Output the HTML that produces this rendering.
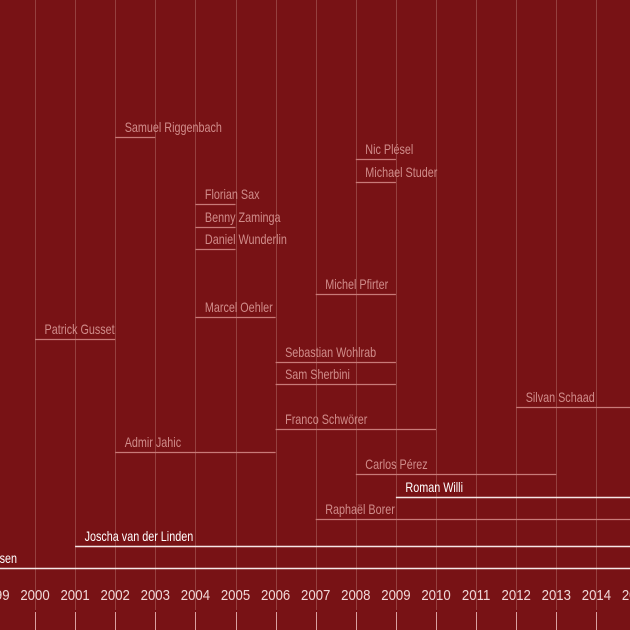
<!DOCTYPE html>
<html><head><meta charset="utf-8"><style>
html,body{margin:0;padding:0;background:#781215;}
svg{display:block;font-family:"Liberation Sans",sans-serif;}
</style></head><body>
<svg width="630" height="630" viewBox="0 0 630 630" xmlns="http://www.w3.org/2000/svg">
<rect width="630" height="630" fill="#781215"/>
<g id="grid" stroke="#95403f" stroke-width="1"></g>
<g id="ticks" stroke="#d9a0a0" stroke-width="1"></g>
<g id="items"></g>
<g id="years" fill="#f0d8d8" font-size="15" text-anchor="middle"></g>
</svg>
<script>
var NS="http://www.w3.org/2000/svg";
function X(y){return 35+(y-2000)*40.1;}
function el(p,t,a,txt){var e=document.createElementNS(NS,t);for(var k in a)e.setAttribute(k,a[k]);if(txt)e.textContent=txt;document.getElementById(p).appendChild(e);return e;}
for(var y=1999;y<=2015;y++){var x=Math.round(X(y))+0.5;
 el("grid","line",{x1:x,x2:x,y1:0,y2:610});
 el("ticks","line",{x1:x,x2:x,y1:612,y2:630});
 el("years","text",{x:0,y:0,transform:"translate("+X(y)+",600) scale(0.88,1)"},String(y));}
var items=[
["Samuel Riggenbach",2002,2003,137,0],
["Nic Plésel",2008,2009,159,0],
["Michael Studer",2008,2009,182,0],
["Florian Sax",2004,2005,204,0],
["Benny Zaminga",2004,2005,227,0],
["Daniel Wunderlin",2004,2005,249,0],
["Michel Pfirter",2007,2009,294,0],
["Marcel Oehler",2004,2006,317,0],
["Patrick Gusset",2000,2002,339,0],
["Sebastian Wohlrab",2006,2009,362,0],
["Sam Sherbini",2006,2009,384,0],
["Silvan Schaad",2012,2016,407,0],
["Franco Schwörer",2006,2010,429,0],
["Admir Jahic",2002,2006,452,0],
["Carlos Pérez",2008,2013,474,0],
["Roman Willi",2009,2016,497,1],
["Raphaël Borer",2007,2016,519,0],
["Joscha van der Linden",2001,2016,546,1],
["Roger Hassen",1998,2016,568,1]];
items.forEach(function(i){
 var x1=X(i[1]),x2=X(i[2]),c=i[4]?"#f5e6e6":"#c87a78",tc=i[4]?"#ffffff":"#d08c8a";
 el("items","line",{x1:x1,x2:x2,y1:i[3]+0.5,y2:i[3]+0.5,stroke:c,"stroke-width":i[4]?1.6:1.2});
 var tx=i[0]=="Roger Hassen"?-52:x1+9.5;
 el("items","text",{x:0,y:0,fill:tc,"font-size":"13.5",transform:"translate("+tx+","+(i[3]-5)+") scale(0.8,1)"},i[0]);
});
</script>
</body></html>
